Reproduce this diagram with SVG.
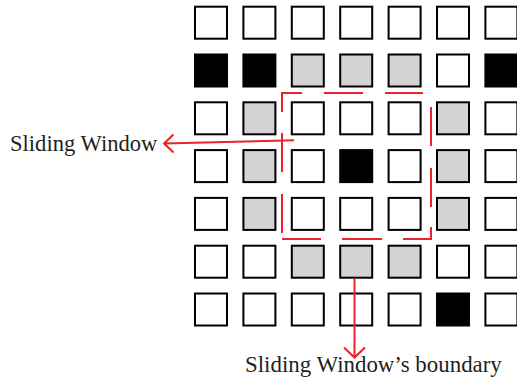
<svg xmlns="http://www.w3.org/2000/svg" width="517" height="382" viewBox="0 0 517 382">
  <defs>
    <style>
      .cell { stroke: #000; stroke-width: 2; }
      .w { fill: #fff; }
      .g { fill: #d3d3d3; }
      .b { fill: #000; }
      .red { fill: none; stroke: #e8232b; stroke-width: 2; stroke-linecap: butt; stroke-linejoin: miter; }
      .label { font-family: "Liberation Serif", "Times New Roman", serif; fill: #231f20; }
    </style>
  </defs>
  <rect x="0" y="0" width="517" height="382" fill="#fff"/>

  <!-- row 1 -->
  <g id="cell-r1c1"><rect class="cell w" x="195" y="6.7" width="32" height="32"/></g>
  <g id="cell-r1c2"><rect class="cell w" x="243.4" y="6.7" width="32" height="32"/></g>
  <g id="cell-r1c3"><rect class="cell w" x="291.8" y="6.7" width="32" height="32"/></g>
  <g id="cell-r1c4"><rect class="cell w" x="340.2" y="6.7" width="32" height="32"/></g>
  <g id="cell-r1c5"><rect class="cell w" x="388.6" y="6.7" width="32" height="32"/></g>
  <g id="cell-r1c6"><rect class="cell w" x="437" y="6.7" width="32" height="32"/></g>
  <g id="cell-r1c7"><rect class="cell w" x="485.4" y="6.7" width="32" height="32"/></g>
  <!-- row 2 -->
  <g id="cell-r2c1"><rect class="cell b" x="195" y="54.5" width="32" height="32"/></g>
  <g id="cell-r2c2"><rect class="cell b" x="243.4" y="54.5" width="32" height="32"/></g>
  <g id="cell-r2c3"><rect class="cell g" x="291.8" y="54.5" width="32" height="32"/></g>
  <g id="cell-r2c4"><rect class="cell g" x="340.2" y="54.5" width="32" height="32"/></g>
  <g id="cell-r2c5"><rect class="cell g" x="388.6" y="54.5" width="32" height="32"/></g>
  <g id="cell-r2c6"><rect class="cell w" x="437" y="54.5" width="32" height="32"/></g>
  <g id="cell-r2c7"><rect class="cell b" x="485.4" y="54.5" width="32" height="32"/></g>
  <!-- row 3 -->
  <g id="cell-r3c1"><rect class="cell w" x="195" y="102.3" width="32" height="32"/></g>
  <g id="cell-r3c2"><rect class="cell g" x="243.4" y="102.3" width="32" height="32"/></g>
  <g id="cell-r3c3"><rect class="cell w" x="291.8" y="102.3" width="32" height="32"/></g>
  <g id="cell-r3c4"><rect class="cell w" x="340.2" y="102.3" width="32" height="32"/></g>
  <g id="cell-r3c5"><rect class="cell w" x="388.6" y="102.3" width="32" height="32"/></g>
  <g id="cell-r3c6"><rect class="cell g" x="437" y="102.3" width="32" height="32"/></g>
  <g id="cell-r3c7"><rect class="cell w" x="485.4" y="102.3" width="32" height="32"/></g>
  <!-- row 4 -->
  <g id="cell-r4c1"><rect class="cell w" x="195" y="150.1" width="32" height="32"/></g>
  <g id="cell-r4c2"><rect class="cell g" x="243.4" y="150.1" width="32" height="32"/></g>
  <g id="cell-r4c3"><rect class="cell w" x="291.8" y="150.1" width="32" height="32"/></g>
  <g id="cell-r4c4"><rect class="cell b" x="340.2" y="150.1" width="32" height="32"/></g>
  <g id="cell-r4c5"><rect class="cell w" x="388.6" y="150.1" width="32" height="32"/></g>
  <g id="cell-r4c6"><rect class="cell g" x="437" y="150.1" width="32" height="32"/></g>
  <g id="cell-r4c7"><rect class="cell w" x="485.4" y="150.1" width="32" height="32"/></g>
  <!-- row 5 -->
  <g id="cell-r5c1"><rect class="cell w" x="195" y="197.9" width="32" height="32"/></g>
  <g id="cell-r5c2"><rect class="cell g" x="243.4" y="197.9" width="32" height="32"/></g>
  <g id="cell-r5c3"><rect class="cell w" x="291.8" y="197.9" width="32" height="32"/></g>
  <g id="cell-r5c4"><rect class="cell w" x="340.2" y="197.9" width="32" height="32"/></g>
  <g id="cell-r5c5"><rect class="cell w" x="388.6" y="197.9" width="32" height="32"/></g>
  <g id="cell-r5c6"><rect class="cell g" x="437" y="197.9" width="32" height="32"/></g>
  <g id="cell-r5c7"><rect class="cell w" x="485.4" y="197.9" width="32" height="32"/></g>
  <!-- row 6 -->
  <g id="cell-r6c1"><rect class="cell w" x="195" y="245.7" width="32" height="32"/></g>
  <g id="cell-r6c2"><rect class="cell w" x="243.4" y="245.7" width="32" height="32"/></g>
  <g id="cell-r6c3"><rect class="cell g" x="291.8" y="245.7" width="32" height="32"/></g>
  <g id="cell-r6c4"><rect class="cell g" x="340.2" y="245.7" width="32" height="32"/></g>
  <g id="cell-r6c5"><rect class="cell g" x="388.6" y="245.7" width="32" height="32"/></g>
  <g id="cell-r6c6"><rect class="cell w" x="437" y="245.7" width="32" height="32"/></g>
  <g id="cell-r6c7"><rect class="cell w" x="485.4" y="245.7" width="32" height="32"/></g>
  <!-- row 7 -->
  <g id="cell-r7c1"><rect class="cell w" x="195" y="293.5" width="32" height="32"/></g>
  <g id="cell-r7c2"><rect class="cell w" x="243.4" y="293.5" width="32" height="32"/></g>
  <g id="cell-r7c3"><rect class="cell w" x="291.8" y="293.5" width="32" height="32"/></g>
  <g id="cell-r7c4"><rect class="cell w" x="340.2" y="293.5" width="32" height="32"/></g>
  <g id="cell-r7c5"><rect class="cell w" x="388.6" y="293.5" width="32" height="32"/></g>
  <g id="cell-r7c6"><rect class="cell b" x="437" y="293.5" width="32" height="32"/></g>
  <g id="cell-r7c7"><rect class="cell w" x="485.4" y="293.5" width="32" height="32"/></g>

  <!-- connectors: window boundary and the two pointer arrows -->
  <g id="connectors">
    <path class="red" d="M282,112 L282,93 L302,93 M324,93 L363,93 M385,93 L423,93 M431,107 L431,146 M431,168 L431,207 M431,227 L431,239 L403,239 M382,239 L342,239 M321,239 L282,239 M282,233 L282,194 M282,172 L282,133"/>
    <path class="red" d="M294,140.3 L164,143.5 M173.5,134.5 L164,143.5 L173.5,152.5"/>
    <path class="red" d="M354.5,278.5 L354.5,357.5 M344,347.5 L354.5,357.5 L365,347.5"/>
  </g>

  <!-- labels -->
  <g id="label-window"><text class="label" x="10" y="151" font-size="22.6">Sliding Window</text></g>
  <g id="label-boundary"><text class="label" x="245" y="372" font-size="22.9">Sliding Window’s boundary</text></g>
</svg>
